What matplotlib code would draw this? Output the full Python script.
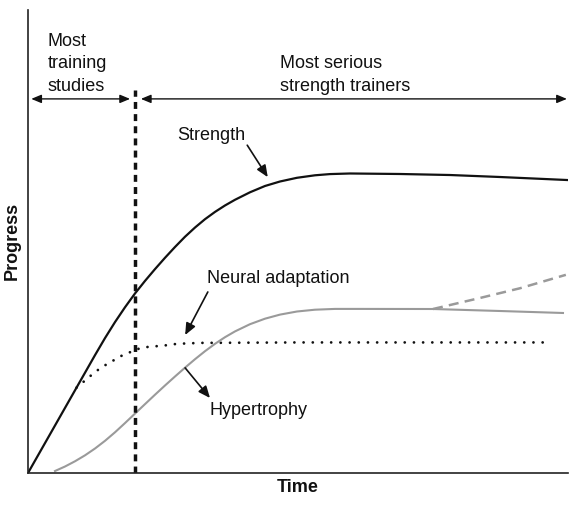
import matplotlib
matplotlib.use("Agg")
import matplotlib.pyplot as plt

plt.rcParams['font.family'] = ['Liberation Sans', 'DejaVu Sans']

# ---- data (time 0-100, progress 0-100) ----
strength_x = [0, 12.41, 14.26, 16.11, 17.96, 19.81, 21.67, 23.52, 25.37, 27.22,
              29.07, 30.93, 32.78, 34.63, 36.48, 38.33, 41.11, 43.89, 46.67,
              49.81, 53.15, 55.93, 59.63, 68.89, 78.15, 87.41, 99.81]
strength_y = [0, 25.46, 29.14, 32.59, 35.79, 38.77, 41.49, 44.04, 46.48, 48.81,
              51.02, 53.02, 54.82, 56.39, 57.78, 59.01, 60.63, 61.99, 62.96,
              63.76, 64.30, 64.56, 64.69, 64.58, 64.36, 63.93, 63.28]

hyper_x = [5.00, 6.85, 8.70, 10.56, 12.41, 14.26, 16.11, 17.96, 19.81, 21.67,
           23.52, 25.37, 27.22, 29.07, 30.93, 32.78, 34.63, 36.48, 38.33, 41.11,
           43.89, 46.67, 49.81, 53.15, 56.85, 61.48, 75.00, 87.41, 99.07]
hyper_y = [0.43, 1.40, 2.53, 3.82, 5.29, 6.95, 8.79, 10.78, 12.83, 14.88,
           16.91, 18.90, 20.84, 22.74, 24.58, 26.31, 27.90, 29.33, 30.58, 32.14,
           33.33, 34.21, 34.88, 35.27, 35.44, 35.44, 35.42, 34.99, 34.56]

hyper_ext_x = [75.0, 83.7, 91.1, 99.6]
hyper_ext_y = [35.42, 37.8, 39.9, 42.8]

neural_x = [9.0, 10.9, 12.2, 13.7, 15.4, 16.9, 18.5, 20.4, 22.0, 23.9, 25.7,
            27.6, 31.9, 50.0, 75.0, 96.3]
neural_y = [18.45, 20.3, 21.6, 22.9, 24.0, 25.1, 25.9, 26.8, 27.2, 27.4, 27.6,
            27.9, 28.1, 28.2, 28.2, 28.2]

divider_x = 19.8
divider_top = 82.7
range_y = 80.8

W, H = 588, 512
fig = plt.figure(figsize=(W / 100, H / 100), dpi=100)
ax = fig.add_axes([28 / W, (H - 473) / H, 540 / W, 463 / H])
ax.set_xlim(0, 100)
ax.set_ylim(0, 100)
for s in ['top', 'right']:
    ax.spines[s].set_visible(False)
for s in ['left', 'bottom']:
    ax.spines[s].set_linewidth(1.2)
    ax.spines[s].set_color('#222222')
ax.set_xticks([])
ax.set_yticks([])

# curves
ax.plot(neural_x, neural_y, color='#111111', lw=2.0, linestyle=(0, (0.01, 3.3)),
        dash_capstyle='round', solid_joinstyle='round')
ax.plot(hyper_x, hyper_y, color='#9a9a9a', lw=1.5, solid_joinstyle='round')
ax.plot(hyper_ext_x, hyper_ext_y, color='#9a9a9a', lw=1.8, linestyle=(0, (4, 2.5)))
ax.plot(strength_x, strength_y, color='#111111', lw=1.6, solid_joinstyle='round')

# vertical divider
ax.plot([divider_x, divider_x], [0, divider_top], color='#111111', lw=2.5,
        linestyle=(0, (2, 1.5)))

arrow_kw = dict(arrowstyle='<|-|>,head_length=0.6,head_width=0.25', color='#111111',
                lw=1.0, shrinkA=0, shrinkB=0, mutation_scale=10)
ax.annotate('', xy=(0.6, range_y), xytext=(18.9, range_y), arrowprops=arrow_kw)
ax.annotate('', xy=(20.9, range_y), xytext=(99.8, range_y), arrowprops=arrow_kw)

fs = 13
ax.text(3.7, 88.4, 'Most\ntraining\nstudies', ha='left', va='center', fontsize=fs,
        linespacing=1.42, color='#111111')
ax.text(46.7, 86.0, 'Most serious\nstrength trainers', ha='left', va='center',
        fontsize=fs, linespacing=1.42, color='#111111')

ptr_kw = dict(arrowstyle='-|>,head_length=0.7,head_width=0.3', color='#111111',
              lw=1.2, shrinkA=0, shrinkB=0, mutation_scale=10)
ax.text(27.6, 73.0, 'Strength', ha='left', va='center', fontsize=fs, color='#111111')
ax.annotate('', xy=(44.4, 63.9), xytext=(40.6, 70.8), arrowprops=ptr_kw)
ax.text(33.1, 42.1, 'Neural adaptation', ha='left', va='center', fontsize=fs, color='#111111')
ax.annotate('', xy=(29.1, 29.8), xytext=(33.3, 39.1), arrowprops=ptr_kw)
ax.text(33.7, 13.6, 'Hypertrophy', ha='left', va='center', fontsize=fs, color='#111111')
ax.annotate('', xy=(33.7, 16.2), xytext=(29.1, 22.7), arrowprops=ptr_kw)

fig.text(298 / W, 1 - 488 / H, 'Time', ha='center', va='center', fontsize=fs,
         fontweight='bold', color='#111111')
fig.text(12 / W, 1 - 241 / H, 'Progress', ha='center', va='center', fontsize=fs,
         fontweight='bold', rotation=90, color='#111111')

fig.savefig('out.png', dpi=100, facecolor='white')
